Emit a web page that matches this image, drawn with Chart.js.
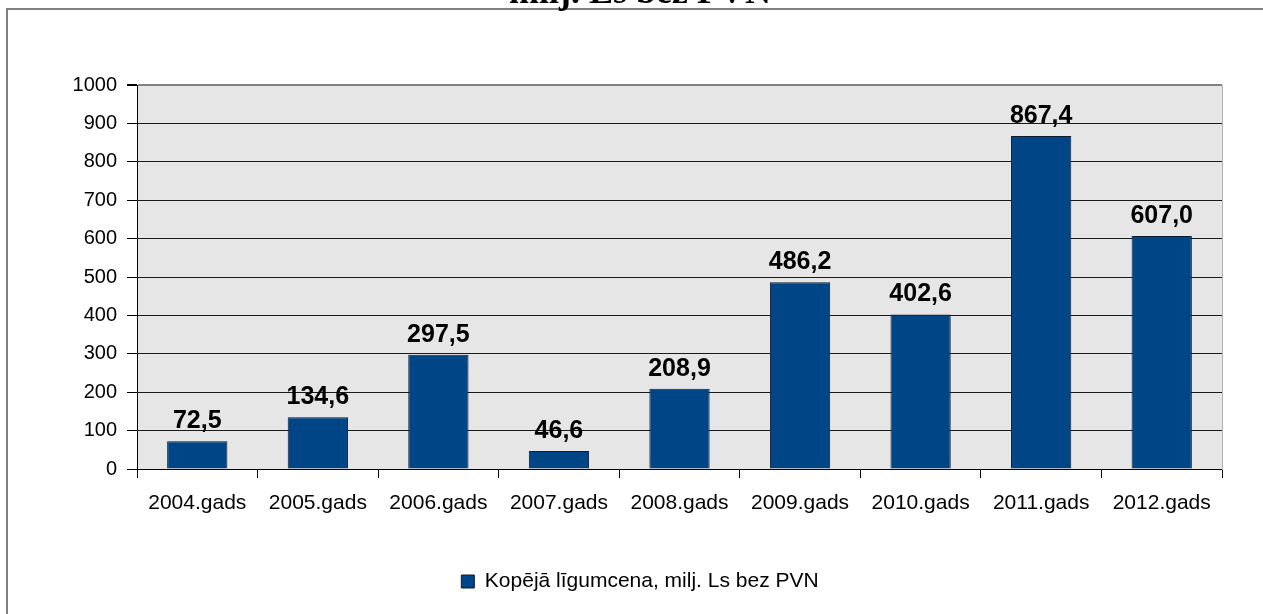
<!DOCTYPE html>
<html>
<head>
<meta charset="utf-8">
<script src="https://cdn.jsdelivr.net/npm/chart.js@4/dist/chart.umd.min.js"></script>
<style>
html,body{margin:0;padding:0;background:#fff;}
#wrap{position:relative;width:1263px;height:614px;}
</style>
</head>
<body>
<div id="wrap"><canvas id="c" width="1263" height="614"></canvas></div>
<script>
const categories = ['2004.gads','2005.gads','2006.gads','2007.gads','2008.gads','2009.gads','2010.gads','2011.gads','2012.gads'];
const values = [72.5, 134.6, 297.5, 46.6, 208.9, 486.2, 402.6, 867.4, 607.0];
const seriesName = 'Kopējā līgumcena, milj. Ls bez PVN';
const titleText = 'milj. Ls bez PVN';
const yTicks = [0,100,200,300,400,500,600,700,800,900,1000];

const FONT = "'Liberation Sans', Arial, sans-serif";

const framePlugin = {
  id: 'frame',
  beforeDraw(chart) {
    const ctx = chart.ctx, a = chart.chartArea;
    ctx.save();
    ctx.fillStyle = '#ffffff';
    ctx.fillRect(0, 0, chart.width, chart.height);
    ctx.strokeStyle = '#808080';
    ctx.lineWidth = 2;
    ctx.strokeRect(7, 9, chart.width + 50, chart.height + 50);
    ctx.fillStyle = '#e6e6e6';
    ctx.fillRect(a.left, a.top, a.right - a.left, a.bottom - a.top);
    ctx.fillStyle = '#000';
    ctx.font = "bold 36px 'Liberation Serif', 'Times New Roman', serif";
    ctx.textAlign = 'center';
    ctx.textBaseline = 'alphabetic';
    ctx.fillText(titleText, 640, 3);
    ctx.restore();
  },
  afterDatasetsDraw(chart) {
    const ctx = chart.ctx;
    const meta = chart.getDatasetMeta(0);
    ctx.save();
    ctx.fillStyle = '#000';
    ctx.font = 'bold 25px ' + FONT;
    ctx.textAlign = 'center';
    ctx.textBaseline = 'alphabetic';
    meta.data.forEach((bar, i) => {
      const v = chart.data.datasets[0].data[i];
      ctx.fillText(v.toFixed(1).replace('.', ','), bar.x, bar.y - 13);
    });
    ctx.restore();
  }
};

new Chart(document.getElementById('c'), {
  type: 'bar',
  data: {
    labels: categories,
    datasets: [{
      label: seriesName,
      data: values,
      backgroundColor: '#004586',
      borderColor: '#0c1c33',
      borderWidth: 1,
      barPercentage: 0.5,
      categoryPercentage: 1.0
    }]
  },
  options: {
    responsive: false,
    animation: false,
    devicePixelRatio: 1,
    layout: { padding: { left: 17, right: 0, top: 85, bottom: 12 } },
    plugins: {
      title: { display: false },
      tooltip: { enabled: false },
      legend: {
        display: true,
        position: 'bottom',
        labels: {
          color: '#000',
          font: { family: FONT, size: 21 },
          boxWidth: 13,
          boxHeight: 13,
          padding: 10
        }
      }
    },
    scales: {
      x: {
        grid: { display: true, offset: true, drawOnChartArea: false, drawTicks: true, tickLength: 9, color: '#000', tickColor: '#000' },
        border: { display: true, color: '#000', width: 1 },
        ticks: { color: '#000', font: { family: FONT, size: 21 }, padding: 13, maxRotation: 0, autoSkip: false },
        afterFit(s) { s.height = 92; }
      },
      y: {
        min: 0, max: 1000,
        afterBuildTicks(s) { s.ticks = yTicks.map(v => ({ value: v })); },
        grid: {
          color: ctx => (ctx.tick && ctx.tick.value === 1000) ? '#808080' : '#1a1a1a',
          lineWidth: ctx => (ctx.tick && ctx.tick.value === 1000) ? 2 : 1,
          tickLength: 10,
          tickColor: '#000'
        },
        border: { display: true, color: '#000', width: 1 },
        ticks: { color: '#000', font: { family: FONT, size: 20 }, padding: 10, callback: v => String(v) },
        afterFit(s) { s.width = 120; }
      },
      yRight: {
        position: 'right',
        min: 0, max: 1000,
        grid: { display: false },
        ticks: { display: false },
        border: { display: true, color: '#b3b3b3', width: 1 },
        afterFit(s) { s.width = 41; }
      }
    }
  },
  plugins: [framePlugin]
});
</script>
</body>
</html>
